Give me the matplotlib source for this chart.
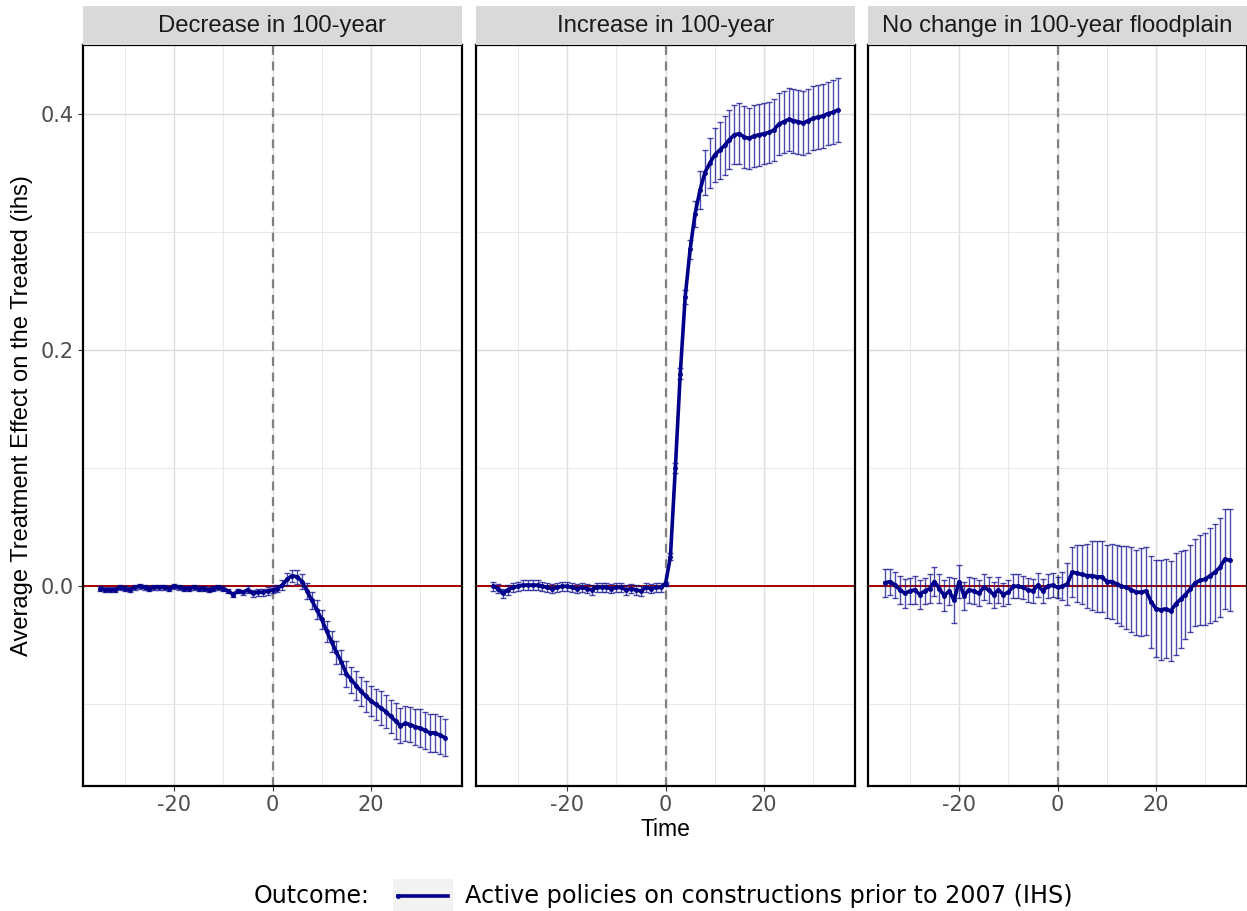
import numpy as np
import matplotlib.pyplot as plt
from matplotlib.patches import Rectangle
from matplotlib.lines import Line2D

plt.rcParams["font.family"] = ["DejaVu Sans"]
plt.rcParams["axes.unicode_minus"] = False
title_font = ["Liberation Sans", "DejaVu Sans"]

time = np.arange(-35, 36)

panels = ["Decrease in 100-year", "Increase in 100-year",
          "No change in 100-year floodplain"]

# 100-year floodplain decreased
est_dec = [-0.002, -0.003, -0.003, -0.003, -0.001, -0.002, -0.003, -0.001, 0.000, -0.001,
           -0.002, -0.001, -0.001, -0.001, -0.002, 0.000, -0.001, -0.002, -0.002, -0.001,
           -0.002, -0.002, -0.003, -0.002, -0.001, -0.002, -0.004, -0.007, -0.004, -0.005,
           -0.003, -0.006, -0.005, -0.005, -0.004,
           -0.003, -0.002, 0.001, 0.006, 0.009, 0.008, 0.004, -0.004, -0.012, -0.020,
           -0.028, -0.038, -0.047, -0.056, -0.064, -0.074, -0.079, -0.084, -0.089, -0.093,
           -0.097, -0.100, -0.103, -0.106, -0.110, -0.114, -0.118, -0.116, -0.117, -0.119,
           -0.120, -0.122, -0.124, -0.124, -0.126, -0.128]
se_dec = [0.002] * 30 + [0.003] * 5 + \
         [0.003, 0.003, 0.004, 0.005, 0.005, 0.006, 0.006, 0.007, 0.007, 0.008,
          0.008, 0.009, 0.009, 0.010, 0.010, 0.011, 0.011, 0.012, 0.012, 0.013,
          0.013, 0.013, 0.014, 0.014, 0.014, 0.015, 0.015, 0.015, 0.015, 0.015,
          0.016, 0.016, 0.016, 0.016, 0.016, 0.016]

# 100-year floodplain increased
est_inc = [0.000, -0.002, -0.006, -0.003, -0.001, 0.000, 0.001, 0.001, 0.001, 0.001,
           0.000, -0.001, -0.002, -0.001, 0.000, 0.000, -0.001, -0.002, -0.001, -0.002,
           -0.003, -0.001, -0.001, -0.001, -0.002, -0.001, -0.001, -0.003, -0.002, -0.003,
           -0.004, -0.001, -0.002, -0.001, -0.001,
           0.002, 0.025, 0.100, 0.180, 0.245, 0.285, 0.315, 0.335, 0.350, 0.358,
           0.365, 0.369, 0.373, 0.378, 0.382, 0.383, 0.380, 0.379, 0.381, 0.382,
           0.383, 0.384, 0.386, 0.391, 0.393, 0.395, 0.394, 0.393, 0.392, 0.394,
           0.396, 0.397, 0.398, 0.400, 0.401, 0.403]
se_inc = [0.004] * 35 + \
         [0.002, 0.003, 0.004, 0.005, 0.006, 0.008, 0.011, 0.016, 0.019, 0.021,
          0.023, 0.024, 0.025, 0.025, 0.025, 0.026, 0.026, 0.026, 0.026, 0.026,
          0.026, 0.026, 0.026, 0.026, 0.026, 0.027, 0.027, 0.027, 0.027, 0.027,
          0.027, 0.027, 0.027, 0.027, 0.027, 0.027]

# no change in the 100-year floodplain
est_none = [0.003, 0.004, 0.001, -0.003, -0.006, -0.004, -0.003, -0.007, -0.004, -0.002,
            0.004, -0.002, -0.008, -0.004, -0.012, 0.004, -0.008, -0.003, -0.004, -0.006,
            -0.001, -0.003, -0.007, -0.003, -0.007, -0.005, 0.000, 0.000, -0.001, -0.003,
            -0.004, 0.001, -0.004, 0.000, 0.001,
            -0.001, 0.000, 0.002, 0.012, 0.011, 0.010, 0.009, 0.009, 0.008, 0.008,
            0.004, 0.004, 0.002, 0.000, -0.001, -0.003, -0.005, -0.005, -0.004, -0.013,
            -0.019, -0.020, -0.019, -0.021, -0.015, -0.011, -0.007, -0.002, 0.003, 0.005,
            0.006, 0.009, 0.012, 0.016, 0.023, 0.022]
se_none = [0.012, 0.011, 0.011, 0.012, 0.012, 0.011, 0.012, 0.012, 0.011, 0.012,
           0.012, 0.012, 0.013, 0.012, 0.019, 0.014, 0.012, 0.011, 0.011, 0.011,
           0.011, 0.011, 0.011, 0.011, 0.010, 0.010, 0.010, 0.010, 0.010, 0.010,
           0.010, 0.010, 0.010, 0.010, 0.010,
           0.009, 0.012, 0.018, 0.021, 0.024, 0.025, 0.027, 0.029, 0.030, 0.030,
           0.031, 0.032, 0.033, 0.034, 0.035, 0.036, 0.036, 0.037, 0.037, 0.039,
           0.041, 0.042, 0.042, 0.042, 0.043, 0.041, 0.038, 0.037, 0.037, 0.038,
           0.039, 0.040, 0.041, 0.042, 0.042, 0.043]

estimates = [est_dec, est_inc, est_none]
errors = [se_dec, se_inc, se_none]

line_col = "#00008B"
W, H = 1247, 911
fig = plt.figure(figsize=(W / 100, H / 100), dpi=100)

lefts = [83, 476, 868]
pw, top, bottom = 379, 45, 786

for i, (name, est, se) in enumerate(zip(panels, estimates, errors)):
    ax = fig.add_axes([lefts[i] / W, 1 - bottom / H, pw / W, (bottom - top) / H])
    ax.set_xlim(-38.5, 38.5)
    ax.set_ylim(-0.169, 0.458)
    ax.set_xticks([-20, 0, 20])
    ax.set_xticks([-30, -10, 10, 30], minor=True)
    ax.set_yticks([0.0, 0.2, 0.4])
    ax.set_yticks([-0.1, 0.1, 0.3], minor=True)
    ax.grid(True, which="major", color="#DCDCDC", lw=1.0)
    ax.grid(True, which="minor", color="#E8E8E8", lw=0.7)
    ax.set_axisbelow(True)
    ax.tick_params(which="major", length=3.5, width=0.8, color="#333333",
                   labelsize=15, labelcolor="#4D4D4D", pad=3)
    ax.tick_params(which="minor", length=0)
    if i > 0:
        ax.tick_params(axis="y", labelleft=False, length=0)
    else:
        ax.set_yticklabels(["0.0", "0.2", "0.4"])
    for s in ax.spines.values():
        s.set_linewidth(1.6)
        s.set_color("black")

    ax.axhline(0, color="#A50000", lw=1.4, zorder=2)
    ax.axvline(0, color="#808080", lw=1.6, ls=(0, (4, 3)), zorder=2)
    ax.errorbar(time, est, yerr=se, fmt="none", ecolor=line_col, alpha=0.7,
                elinewidth=1.0, capsize=2, capthick=1.0, zorder=3)
    ax.plot(time, est, color=line_col, lw=2.6, marker="o", ms=2.5, zorder=4)

    # facet strip
    sax = fig.add_axes([lefts[i] / W, 1 - top / H, pw / W, 39 / H])
    sax.set_facecolor("#D9D9D9")
    sax.set_xticks([])
    sax.set_yticks([])
    for s in sax.spines.values():
        s.set_visible(False)
    sax.text(0.5, 0.48, name, ha="center", va="center", fontsize=17.2,
             family=title_font, color="#1A1A1A", transform=sax.transAxes)

fig.text(22 / W, 1 - 415.5 / H, "Average Treatment Effect on the Treated (ihs)",
         rotation=90, ha="center", va="center", fontsize=17.1, family=title_font)
fig.text(665 / W, 1 - 829 / H, "Time", ha="center", va="center", fontsize=16.5,
         family=title_font)

# legend along the bottom
fig.text(254 / W, 1 - 896 / H, "Outcome:", ha="left", va="center", fontsize=17)
fig.patches.append(Rectangle((393 / W, 1 - 913 / H), 60 / W, 34 / H,
                             transform=fig.transFigure, facecolor="#F2F2F2",
                             edgecolor="none"))
fig.lines.append(Line2D([398 / W, 448 / W], [1 - 896 / H, 1 - 896 / H],
                        transform=fig.transFigure, color=line_col, lw=2.6,
                        marker="o", ms=2.5, markevery=[0]))
fig.text(465 / W, 1 - 896 / H, "Active policies on constructions prior to 2007 (IHS)",
         ha="left", va="center", fontsize=17.2)

fig.savefig("out.png", dpi=100)
